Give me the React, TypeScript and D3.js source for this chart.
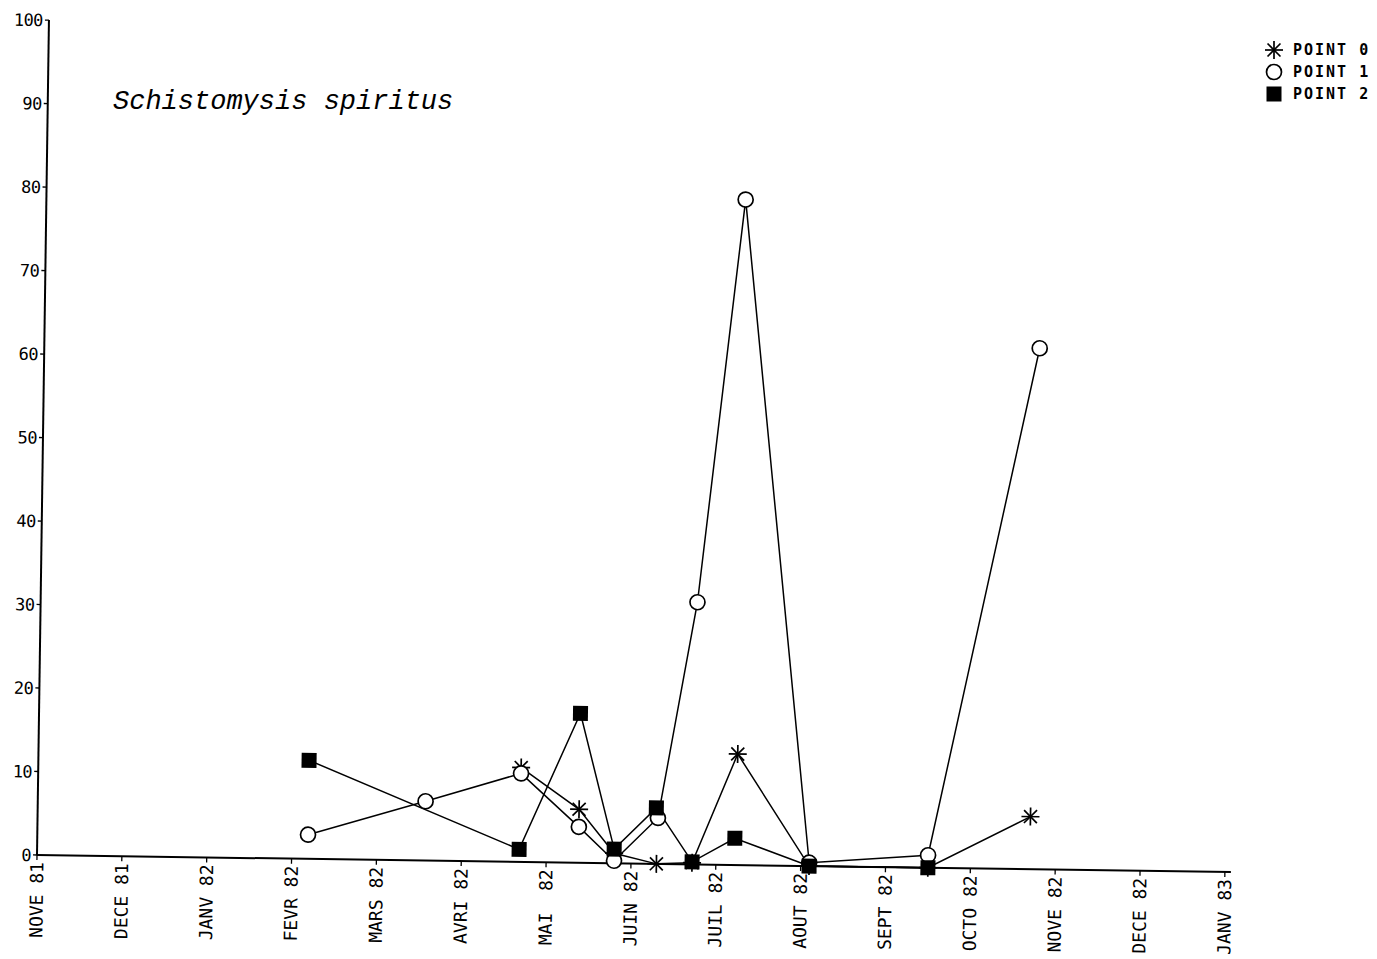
import React from "react";
import * as d3 from "d3";

// month index: 0 = NOVE 81 ... 14 = JANV 83
const monthLabels = [
  "NOVE 81", "DECE 81", "JANV 82", "FEVR 82", "MARS 82", "AVRI 82", "MAI  82",
  "JUIN 82", "JUIL 82", "AOUT 82", "SEPT 82", "OCTO 82", "NOVE 82", "DECE 82", "JANV 83",
];
const yTicks = [0, 10, 20, 30, 40, 50, 60, 70, 80, 90, 100];

const point0Months = [5.69, 6.38, 6.8, 7.3, 7.72, 8.24, 9.1, 10.5, 11.7];
const point0Values = [11.3, 6.4, 1.2, 0, 0.2, 13.3, 0, 0, 6.3];

const point1Months = [3.19, 4.57, 5.69, 6.38, 6.8, 7.31, 7.74, 8.24, 9.1, 10.5, 11.73];
const point1Values = [2.9, 7.1, 10.6, 4.3, 0.3, 5.5, 31.4, 79.7, 0.4, 1.5, 62.4];

const point2Months = [3.19, 5.68, 6.38, 6.8, 7.29, 7.72, 8.22, 9.1, 10.5];
const point2Values = [11.8, 1.5, 17.9, 1.7, 6.7, 0.3, 3.2, 0, 0];

const seriesNames = ["POINT 0", "POINT 1", "POINT 2"];
const title = "Schistomysis spiritus";

const W = 1377;
const H = 959;
const X0 = 37;
const Y0 = 855;
const TILT = 0.82;

const x = d3.scaleLinear().domain([0, 14]).range([X0, X0 + 1188]);
const y = d3.scaleLinear().domain([0, 100]).range([Y0, Y0 - 835]);

const mono = "'DejaVu Sans Mono', monospace";

function Asterisk({ cx, cy, r }: { cx: number; cy: number; r: number }) {
  const d = r * 0.72;
  return (
    <g stroke="#000" strokeWidth={1.7}>
      <line x1={cx - r} y1={cy} x2={cx + r} y2={cy} />
      <line x1={cx} y1={cy - r} x2={cx} y2={cy + r} />
      <line x1={cx - d} y1={cy - d} x2={cx + d} y2={cy + d} />
      <line x1={cx - d} y1={cy + d} x2={cx + d} y2={cy - d} />
    </g>
  );
}

function Marker({ kind, cx, cy }: { kind: number; cx: number; cy: number }) {
  if (kind === 0) return <Asterisk cx={cx} cy={cy} r={9} />;
  if (kind === 1)
    return <circle cx={cx} cy={cy} r={7.5} fill="#fff" stroke="#000" strokeWidth={1.7} />;
  return <rect x={cx - 7.5} y={cy - 7.5} width={15} height={15} fill="#000" />;
}

export default function App() {
  const series = [
    { months: point0Months, values: point0Values },
    { months: point1Months, values: point1Values },
    { months: point2Months, values: point2Values },
  ];
  const line = d3
    .line<[number, number]>()
    .x((d) => x(d[0]))
    .y((d) => y(d[1]));

  return (
    <svg
      width={W}
      height={H}
      style={{ position: "absolute", left: 0, top: 0, background: "#fff" }}
    >
      <rect x={0} y={0} width={W} height={H} fill="#fff" />
      <g transform={`rotate(${TILT}, ${X0}, ${Y0})`}>
        {/* axes */}
        <line x1={X0} y1={y(0)} x2={X0} y2={y(100)} stroke="#000" strokeWidth={2} />
        <line x1={X0} y1={Y0} x2={x(14) + 6} y2={Y0} stroke="#000" strokeWidth={2} />
        {yTicks.map((t) => (
          <g key={t}>
            <line x1={X0 - 4} x2={X0} y1={y(t)} y2={y(t)} stroke="#000" strokeWidth={1.3} />
            <text
              x={X0 - 6}
              y={y(t)}
              dy="0.36em"
              textAnchor="end"
              fontFamily={mono}
              fontSize={17}
              letterSpacing={-0.5}
            >
              {t}
            </text>
          </g>
        ))}
        {monthLabels.map((m, i) => (
          <g key={i}>
            <line x1={x(i)} x2={x(i)} y1={Y0} y2={Y0 + 5} stroke="#000" strokeWidth={1.3} />
            <text
              transform={`translate(${x(i)}, ${Y0 + 7}) rotate(-90)`}
              dy="0.36em"
              textAnchor="end"
              fontFamily={mono}
              fontSize={18}
              style={{ whiteSpace: "pre" }}
            >
              {m}
            </text>
          </g>
        ))}
        {/* series */}
        {series.map((s, k) => {
          const pts = s.months.map((m, i) => [m, s.values[i]] as [number, number]);
          return (
            <path key={k} d={line(pts) || ""} fill="none" stroke="#000" strokeWidth={1.5} />
          );
        })}
        {series.map((s, k) => (
          <g key={"m" + k}>
            {s.months.map((m, i) => (
              <Marker key={i} kind={k} cx={x(m)} cy={y(s.values[i])} />
            ))}
          </g>
        ))}
      </g>
      {/* title */}
      <text
        x={113}
        y={109}
        fontFamily="'Liberation Mono', 'Courier New', monospace"
        fontStyle="italic"
        fontSize={27}
      >
        {title}
      </text>
      {/* legend */}
      {seriesNames.map((n, k) => (
        <g key={n}>
          <Marker kind={k} cx={1274} cy={50 + k * 22} />
          <text
            x={1293}
            y={50 + k * 22}
            dy="0.36em"
            fontFamily={mono}
            fontSize={15}
            fontWeight="bold"
            letterSpacing={2}
          >
            {n}
          </text>
        </g>
      ))}
    </svg>
  );
}
